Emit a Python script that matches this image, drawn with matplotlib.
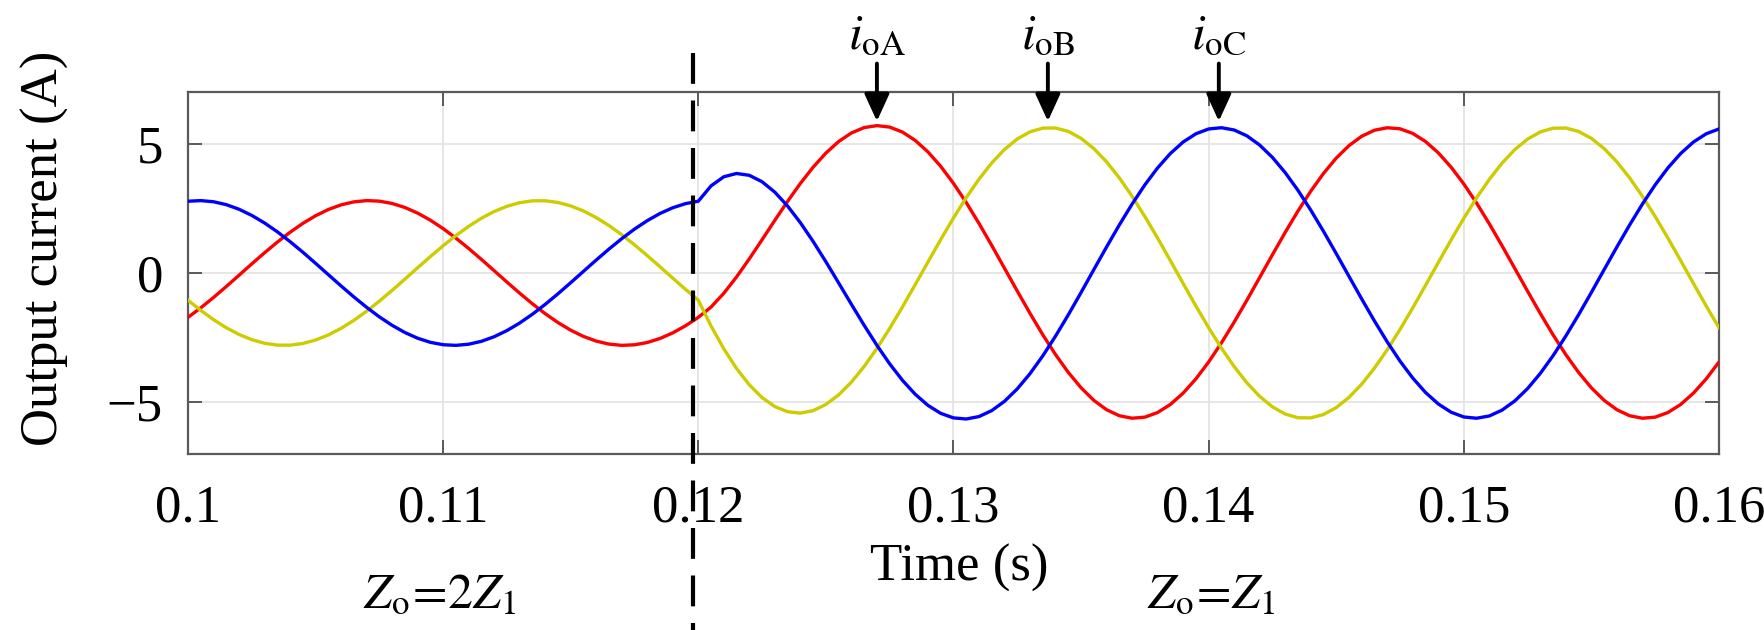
import matplotlib
matplotlib.use("Agg")
import matplotlib.pyplot as plt
from matplotlib import transforms

plt.rcParams['font.family'] = 'serif'
plt.rcParams['font.serif'] = ['Liberation Serif', 'DejaVu Serif']
plt.rcParams['mathtext.fontset'] = 'stix'
plt.rcParams['axes.unicode_minus'] = True

# ---------------- data ----------------
time_s = [0.1000, 0.1005, 0.1010, 0.1015, 0.1020, 0.1025, 0.1030, 0.1035, 0.1040, 0.1045,
          0.1050, 0.1055, 0.1060, 0.1065, 0.1070, 0.1075, 0.1080, 0.1085, 0.1090, 0.1095,
          0.1100, 0.1105, 0.1110, 0.1115, 0.1120, 0.1125, 0.1130, 0.1135, 0.1140, 0.1145,
          0.1150, 0.1155, 0.1160, 0.1165, 0.1170, 0.1175, 0.1180, 0.1185, 0.1190, 0.1195,
          0.1200, 0.1205, 0.1210, 0.1215, 0.1220, 0.1225, 0.1230, 0.1235, 0.1240, 0.1245,
          0.1250, 0.1255, 0.1260, 0.1265, 0.1270, 0.1275, 0.1280, 0.1285, 0.1290, 0.1295,
          0.1300, 0.1305, 0.1310, 0.1315, 0.1320, 0.1325, 0.1330, 0.1335, 0.1340, 0.1345,
          0.1350, 0.1355, 0.1360, 0.1365, 0.1370, 0.1375, 0.1380, 0.1385, 0.1390, 0.1395,
          0.1400, 0.1405, 0.1410, 0.1415, 0.1420, 0.1425, 0.1430, 0.1435, 0.1440, 0.1445,
          0.1450, 0.1455, 0.1460, 0.1465, 0.1470, 0.1475, 0.1480, 0.1485, 0.1490, 0.1495,
          0.1500, 0.1505, 0.1510, 0.1515, 0.1520, 0.1525, 0.1530, 0.1535, 0.1540, 0.1545,
          0.1550, 0.1555, 0.1560, 0.1565, 0.1570, 0.1575, 0.1580, 0.1585, 0.1590, 0.1595,
          0.1600]

i_oA = [-1.716, -1.349, -0.948, -0.525, -0.088, 0.351, 0.781, 1.192, 1.574, 1.917,
        2.213, 2.454, 2.635, 2.750, 2.799, 2.778, 2.689, 2.533, 2.316, 2.041,
        1.716, 1.349, 0.948, 0.525, 0.088, -0.351, -0.781, -1.192, -1.574, -1.917,
        -2.213, -2.454, -2.635, -2.750, -2.799, -2.778, -2.689, -2.533, -2.316, -2.041,
        -1.716, -1.318, -0.784, -0.153, 0.548, 1.287, 2.037, 2.770, 3.463, 4.091,
        4.637, 5.083, 5.415, 5.623, 5.699, 5.642, 5.450, 5.128, 4.683, 4.125,
        3.467, 2.726, 1.918, 1.065, 0.185, -0.696, -1.562, -2.388, -3.155, -3.844,
        -4.438, -4.925, -5.288, -5.521, -5.617, -5.576, -5.397, -5.085, -4.648, -4.097,
        -3.445, -2.708, -1.903, -1.053, -0.176, 0.704, 1.568, 2.393, 3.159, 3.847,
        4.441, 4.925, 5.288, 5.521, 5.617, 5.576, 5.397, 5.085, 4.648, 4.097,
        3.445, 2.708, 1.903, 1.053, 0.176, -0.704, -1.568, -2.393, -3.159, -3.847,
        -4.441, -4.925, -5.288, -5.521, -5.617, -5.576, -5.397, -5.085, -4.648, -4.097,
        -3.445]

i_oB = [-1.053, -1.446, -1.803, -2.117, -2.377, -2.579, -2.718, -2.790, -2.793, -2.727,
        -2.594, -2.398, -2.142, -1.833, -1.480, -1.089, -0.673, -0.239, 0.200, 0.635,
        1.053, 1.446, 1.803, 2.117, 2.377, 2.579, 2.718, 2.790, 2.793, 2.727,
        2.594, 2.398, 2.142, 1.833, 1.480, 1.089, 0.673, 0.239, -0.200, -0.635,
        -1.053, -2.049, -2.931, -3.695, -4.326, -4.819, -5.167, -5.367, -5.419, -5.324,
        -5.086, -4.715, -4.221, -3.616, -2.919, -2.146, -1.317, -0.454, 0.423, 1.291,
        2.128, 2.914, 3.627, 4.255, 4.777, 5.182, 5.459, 5.602, 5.607, 5.476,
        5.207, 4.812, 4.299, 3.679, 2.970, 2.187, 1.350, 0.480, -0.402, -1.274,
        -2.114, -2.903, -3.618, -4.248, -4.771, -5.177, -5.455, -5.599, -5.605, -5.474,
        -5.207, -4.812, -4.299, -3.679, -2.970, -2.187, -1.350, -0.480, 0.402, 1.274,
        2.114, 2.903, 3.618, 4.248, 4.771, 5.177, 5.455, 5.599, 5.605, 5.474,
        5.207, 4.812, 4.299, 3.679, 2.970, 2.187, 1.350, 0.480, -0.402, -1.274,
        -2.114]

i_oC = [2.775, 2.799, 2.755, 2.643, 2.465, 2.227, 1.935, 1.594, 1.214, 0.805,
        0.375, -0.064, -0.501, -0.925, -1.327, -1.697, -2.024, -2.302, -2.523, -2.682,
        -2.775, -2.799, -2.755, -2.643, -2.465, -2.227, -1.935, -1.594, -1.214, -0.805,
        -0.375, 0.064, 0.501, 0.925, 1.327, 1.697, 2.024, 2.302, 2.523, 2.682,
        2.775, 3.369, 3.721, 3.848, 3.777, 3.528, 3.125, 2.589, 1.946, 1.220,
        0.435, -0.384, -1.211, -2.023, -2.797, -3.513, -4.149, -4.689, -5.120, -5.428,
        -5.605, -5.647, -5.553, -5.323, -4.963, -4.483, -3.893, -3.207, -2.443, -1.620,
        -0.757, 0.128, 1.005, 1.857, 2.664, 3.406, 4.063, 4.620, 5.064, 5.383,
        5.569, 5.618, 5.530, 5.304, 4.948, 4.471, 3.883, 3.199, 2.437, 1.615,
        0.753, -0.128, -1.005, -1.857, -2.664, -3.406, -4.063, -4.620, -5.064, -5.383,
        -5.569, -5.618, -5.530, -5.304, -4.948, -4.471, -3.883, -3.199, -2.437, -1.615,
        -0.753, 0.128, 1.005, 1.857, 2.664, 3.406, 4.063, 4.620, 5.064, 5.383,
        5.569]

x_ticks = [0.10, 0.11, 0.12, 0.13, 0.14, 0.15, 0.16]
x_tick_labels = ['0.1', '0.11', '0.12', '0.13', '0.14', '0.15', '0.16']
y_ticks = [-5, 0, 5]
y_tick_labels = ['\u22125', '0', '5']

switch_time = 0.1198
peak_times = [0.1270, 0.1337, 0.1404]
peak_names = [r'$i_{\mathrm{oA}}$', r'$i_{\mathrm{oB}}$', r'$i_{\mathrm{oC}}$']
region_labels = [r'$Z_{\mathrm{o}}\!=\!2Z_{1}$', r'$Z_{\mathrm{o}}\!=\!Z_{1}$']
region_x = [0.1646, 0.668]

# ---------------- figure ----------------
fig = plt.figure(figsize=(17.65, 6.3), dpi=100)
ax = fig.add_axes([0.1065, 0.2794, 0.8674, 0.5746])

colors = ['#ff0000', '#cccc00', '#0000ff']
for series, c in zip([i_oA, i_oB, i_oC], colors):
    ax.plot(time_s, series, color=c, lw=2.4, solid_joinstyle='round', zorder=3)

ax.set_xlim(0.10, 0.16)
ax.set_ylim(-7, 7)
ax.set_xticks(x_ticks)
ax.set_xticklabels(x_tick_labels)
ax.set_yticks(y_ticks)
ax.set_yticklabels(y_tick_labels)

ax.grid(True, color='#e4e4e4', lw=1.3, zorder=0)
ax.set_axisbelow(True)
for sp in ax.spines.values():
    sp.set_color('#5a5a5a')
    sp.set_linewidth(1.6)
ax.tick_params(axis='both', which='major', direction='in', length=10, width=1.4,
               color='#5a5a5a', top=True, right=True, labelsize=38)
ax.tick_params(axis='x', pad=22)
ax.tick_params(axis='y', pad=18)

ax.set_xlabel('Time (s)', fontsize=38)
ax.xaxis.label.set_verticalalignment('center')
ax.xaxis.set_label_coords(0.504, -0.315)
ax.set_ylabel('Output current (A)', fontsize=38)
ax.yaxis.label.set_verticalalignment('center')
ax.yaxis.set_label_coords(-0.0934, 0.569)

# dashed switching line spanning beyond the axes
trans = transforms.blended_transform_factory(ax.transData, fig.transFigure)
ax.plot([switch_time, switch_time], [1 - 53 / 630, 0.0], transform=trans,
        color='black', lw=3, dashes=(7.4, 4.0), clip_on=False, zorder=10)

# peak annotations
for xp, name in zip(peak_times, peak_names):
    ax.annotate('', xy=(xp, 5.87), xytext=(xp, 8.1),
                arrowprops=dict(arrowstyle='-|>,head_width=0.38,head_length=0.83',
                                mutation_scale=20, lw=2.8, color='black',
                                shrinkA=0, shrinkB=0),
                annotation_clip=False, zorder=11)
    ax.text(xp, 9.15, name, fontsize=36, ha='center', va='center',
            clip_on=False)

for xr, lab in zip(region_x, region_labels):
    ax.text(xr, -0.39, lab, transform=ax.transAxes, fontsize=36,
            ha='center', va='center', clip_on=False)

fig.savefig('out.png', dpi=100)
